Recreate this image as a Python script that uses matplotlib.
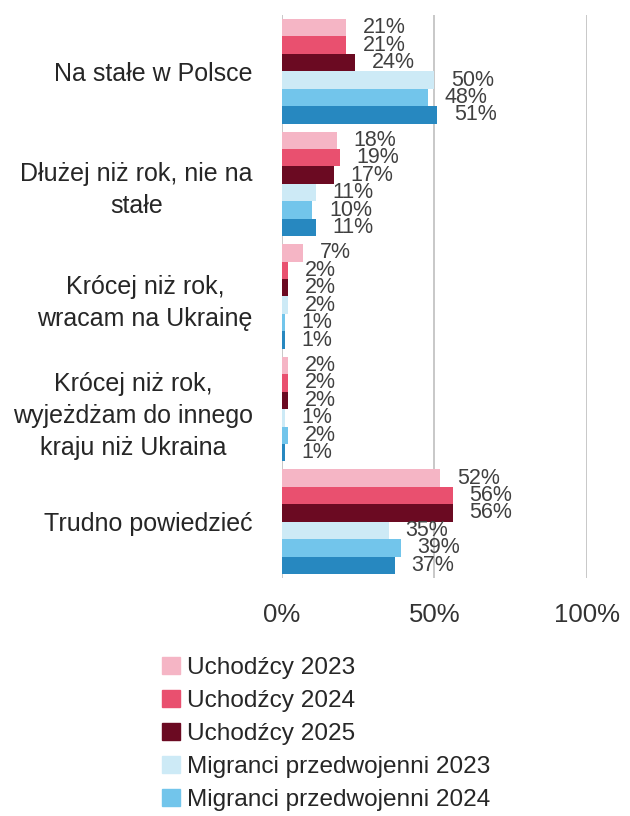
import matplotlib
matplotlib.use('Agg')
import matplotlib.pyplot as plt
from matplotlib.patches import Patch

# ================================================================================== #
' Data '

categories = [
    'Na stałe w Polsce',
    'Dłużej niż rok, nie na\nstałe',
    'Krócej niż rok,\nwracam na Ukrainę',
    'Krócej niż rok,\nwyjeżdżam do innego\nkraju niż Ukraina',
    'Trudno powiedzieć',
]
series_names = [
    'Uchodźcy 2023',
    'Uchodźcy 2024',
    'Uchodźcy 2025',
    'Migranci przedwojenni 2023',
    'Migranci przedwojenni 2024',
    'Migranci przedwojenni 2025',
]
uchodzcy_2023 = [21, 18, 7, 2, 52]
uchodzcy_2024 = [21, 19, 2, 2, 56]
uchodzcy_2025 = [24, 17, 2, 2, 56]
migranci_2023 = [50, 11, 2, 1, 35]
migranci_2024 = [48, 10, 1, 2, 39]
migranci_2025 = [51, 11, 1, 1, 37]
xticks = [0, 50, 100]
xtick_labels = ['0%', '50%', '100%']

series = [uchodzcy_2023, uchodzcy_2024, uchodzcy_2025,
          migranci_2023, migranci_2024, migranci_2025]
colors = ['#F5B5C5', '#E9506F', '#6B0A22', '#CDEAF6', '#72C5EB', '#2788C0']

# ================================================================================== #
' Plot '

plt.rcParams['font.family'] = ['Liberation Sans', 'DejaVu Sans']

fig = plt.figure(figsize=(6.3, 8.16), dpi=100)
ax = fig.add_axes([0.4476, 0.2917, 0.4837, 0.6899])

bar_h = 0.155
for j, vals in enumerate(series):
    ypos = [i + (j - 2.5) * bar_h for i in range(len(categories))]
    bars = ax.barh(ypos, vals, height=bar_h, color=colors[j], zorder=2)
    ax.bar_label(bars, labels=['%d%%' % v for v in vals], padding=12,
                 fontsize=15.5, color='#404040', zorder=3)

ax.set_xlim(0, 100)
ax.set_ylim(len(categories) - 0.5, -0.5)
ax.set_xticks(xticks)
ax.set_xticklabels(xtick_labels, fontsize=18.5, color='#333333')
ax.set_yticks(range(len(categories)))
ax.set_yticklabels(categories, fontsize=18, color='#262626')
for t in ax.get_yticklabels():
    t.set_multialignment('center')
    t.set_linespacing(1.42)
ax.tick_params(axis='x', length=0, pad=18)
ax.tick_params(axis='y', length=0, pad=21)
ax.xaxis.grid(True, color='#BFBFBF', linewidth=1.2, zorder=0)
ax.set_axisbelow(True)
for s in ax.spines.values():
    s.set_visible(False)

# the legend is cut at the bottom of the picture: only five entries fit
handles = [Patch(color=colors[j], label=series_names[j]) for j in range(5)]
fig.legend(handles=handles, loc='upper left', bbox_to_anchor=(0.238, 0.21),
           frameon=False, fontsize=17.6, handlelength=0.72, handleheight=0.72,
           handletextpad=0.3, labelspacing=0.44, borderpad=0,
           labelcolor='#262626')

fig.savefig('out.png', dpi=100)
